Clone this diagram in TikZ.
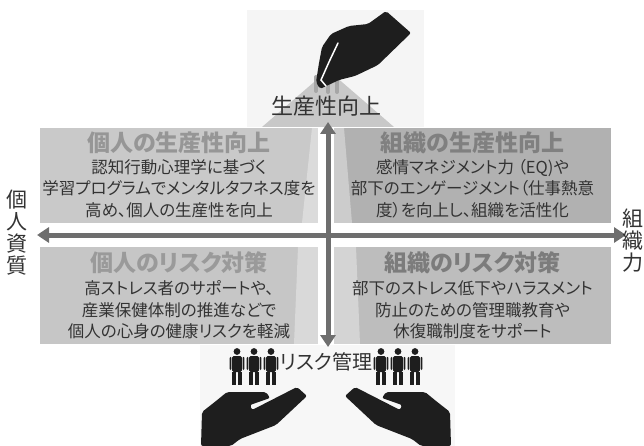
\documentclass[tikz,border=0pt]{standalone}
\usepackage{fontspec}
\setmainfont{Noto Sans CJK JP}[RawFeature=+palt]
\usetikzlibrary{arrows.meta}

\definecolor{boxA}{HTML}{C9C9C9}
\definecolor{boxB}{HTML}{B1B1B1}
\definecolor{boxC}{HTML}{C6C6C6}
\definecolor{boxD}{HTML}{BDBDBD}
\definecolor{ttlA}{HTML}{969696}
\definecolor{ttlB}{HTML}{808080}
\definecolor{ttlC}{HTML}{9A9A9A}
\definecolor{ttlD}{HTML}{7C7C7C}
\definecolor{txtgray}{HTML}{333333}
\definecolor{arrowgray}{HTML}{6E6E6E}
\definecolor{handgray}{HTML}{1E1E1E}
\definecolor{conegray}{HTML}{C8C8C8}

\newcommand\palmpath{%
  (201,446) -- (202,412) -- (216,401) -- (227,392) -- (266,392)
  -- (270,398) -- (250,405) -- (252,410) -- (297,387) -- (307,396)
  -- (276,425) -- (240,439) -- (231,446) -- cycle}

\tikzset{
  quad/.style={draw=none, inner sep=0pt, minimum width=278pt},
  ttl/.style={inner sep=0pt, font=\fontsize{23}{25}\selectfont\bfseries},
  body/.style={inner sep=0pt, align=center, text=txtgray, font=\fontsize{16.5}{21.5}\selectfont},
  lbl/.style={inner sep=0pt, align=center, text=txtgray, font=\fontsize{21}{22}\selectfont},
  axis/.style={line width=5pt, draw=arrowgray,
    {Triangle[length=12pt,width=15pt]}-{Triangle[length=12pt,width=15pt]}},
  hand/.style={fill=handgray, rounded corners=2pt},
  % little person, feet at the origin (pics keep y pointing up)
  person/.pic={
    \fill[handgray] (0,33.5) circle (3.4);
    \fill[handgray, rounded corners=1.5pt] (-4.8,29) rectangle (4.8,13);
    \fill[handgray, rounded corners=1pt] (-7.3,28.2) rectangle (-5.6,15);
    \fill[handgray, rounded corners=1pt] (5.6,28.2) rectangle (7.3,15);
    \fill[handgray] (-4.6,13.5) rectangle (-0.6,0);
    \fill[handgray] (0.6,13.5) rectangle (4.6,0);
  }
}

\begin{document}
\begin{tikzpicture}[x=1pt,y=1pt,yscale=-1]
\useasboundingbox (0,0) rectangle (644,446);

% faint backdrops behind the hands
\fill[black!4] (247,10) rectangle (424,127);
\fill[black!3] (200,345) rectangle (455,446);
% light cone under the top hand
\fill[conegray] (328,70) -- (394,127) -- (262,127) -- cycle;

% four quadrants
\node[quad, fill=boxA, minimum height=95pt] (tl) at (179,175.5) {};
\node[quad, fill=boxB, minimum height=95pt, minimum width=277pt] (tr) at (472.5,175.5) {};
\node[quad, fill=boxC, minimum height=97pt] (bl) at (179,295.5) {};
\node[quad, fill=boxD, minimum height=97pt, minimum width=277pt] (br) at (472.5,295.5) {};

% lighter band of the cone across the boxes
\fill[white, opacity=0.35] (312,128) -- (344,128) -- (352,223) -- (302,223) -- cycle;
\fill[white, opacity=0.35] (298,247) -- (356,247) -- (360,344) -- (294,344) -- cycle;

% quadrant texts
\node[ttl, text=ttlA] (tlt) at (179,143) {個人の生産性向上};
\node[body] (tlb) at (179,188.5) {認知行動心理学に基づく\\学習プログラムでメンタルタフネス度を\\高め、個人の生産性を向上};
\node[ttl, text=ttlB] (trt) at (472.5,143) {組織の生産性向上};
\node[body] (trb) at (472.5,188.5) {感情マネジメント力 （EQ)や\\部下のエンゲージメント（仕事熱意\\度）を向上し、組織を活性化};
\node[ttl, text=ttlC] (blt) at (179,263) {個人のリスク対策};
\node[body] (blb) at (179,310) {高ストレス者のサポートや、\\産業保健体制の推進などで\\個人の心身の健康リスクを軽減};
\node[ttl, text=ttlD] (brt) at (472.5,263) {組織のリスク対策};
\node[body] (brb) at (472.5,310) {部下のストレス低下やハラスメント\\防止のための管理職教育や\\休復職制度をサポート};

% axes
\coordinate (west) at (37,235);
\coordinate (east) at (626,235);
\coordinate (north) at (328,122);
\coordinate (south) at (328,347);
\draw[axis] (west) -- (east);
\draw[axis] (south) -- (north);

% axis labels
\node[lbl] (up) at (326,106) {\fontsize{22}{22}\selectfont 生産性向上};
\node[lbl] (risk) at (326,362) {\fontsize{20}{22}\selectfont リスク管理};
\node[lbl] (indiv) at (17,233) {個\\人\\資\\質};
\node[lbl] (org) at (633,241) {組\\織\\力};

% top hand with bars
\draw[black!35, line width=4pt, line cap=round] (316,77) -- (316,91);
\draw[black!35, line width=4pt, line cap=round] (328,81) -- (328,92);
\draw[black!35, line width=4pt, line cap=round] (337,79) -- (337,92);
\fill[hand] (386,11) -- (411,33) -- (378,65) -- (355,76) -- (339,80) -- (320,89)
  -- (316,82) -- (319,63) -- (322,47) -- (331,34) -- (349,26) -- (368,24) -- cycle;
\draw[white, line width=1.5pt, line cap=round] (338,43) -- (329,62) -- (321,80) -- (326,86);

% bottom hands and people
\fill[hand] \palmpath;
\begin{scope}[shift={(652,0)}, xscale=-1]
  \fill[hand] \palmpath;
\end{scope}
\foreach \px in {237,254,271,381,398,415}
  \pic at (\px,385) {person};
\end{tikzpicture}
\end{document}
